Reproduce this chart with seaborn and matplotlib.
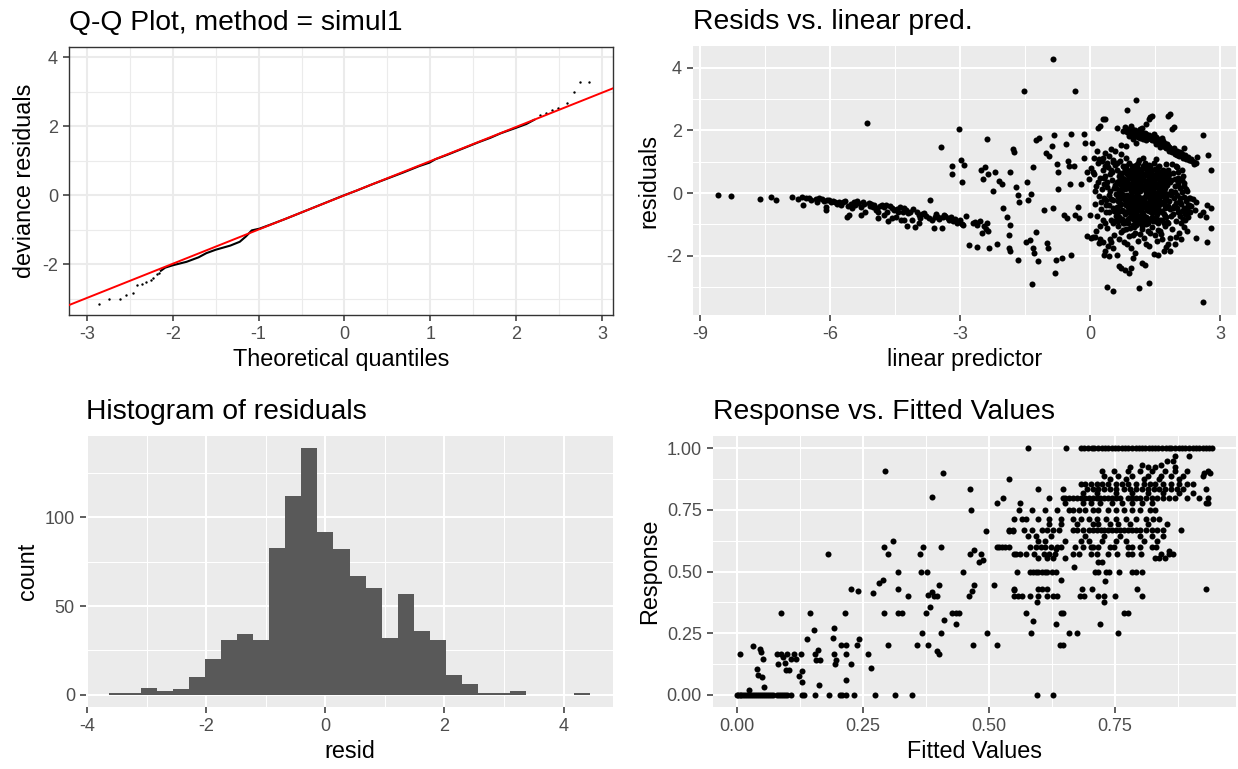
import matplotlib
matplotlib.use("Agg")
import matplotlib.pyplot as plt
import seaborn as sns
import numpy as np
import pandas as pd
from matplotlib.ticker import FixedLocator, FixedFormatter

plt.rcParams['font.family'] = ['Liberation Sans', 'DejaVu Sans']
plt.rcParams['axes.unicode_minus'] = False

# ---------------- data ----------------
# Q-Q plot (theoretical quantile, deviance residual)
qq_core_theo = [-2.14, -2.09, -2.00, -1.84, -1.70, -1.61, -1.50, -1.33, -1.22, -1.15, -1.08, -0.99,
                -0.87, -0.69, -0.51, -0.32, -0.14, 0.00, 0.14, 0.32, 0.51, 0.69, 0.87, 0.99, 1.06,
                1.20, 1.38, 1.56, 1.70, 1.82, 2.00, 2.12, 2.21]
qq_core_samp = [-2.19, -2.10, -2.03, -1.93, -1.80, -1.68, -1.58, -1.46, -1.35, -1.20, -1.02, -0.97,
                -0.86, -0.69, -0.51, -0.32, -0.14, 0.00, 0.13, 0.31, 0.49, 0.66, 0.84, 0.94, 1.04,
                1.17, 1.35, 1.53, 1.66, 1.79, 1.95, 2.06, 2.18]
qq_tail_theo = [-2.86, -2.74, -2.61, -2.54, -2.46, -2.42, -2.36, -2.31, -2.26, -2.23, -2.19, -2.16,
                2.28, 2.35, 2.42, 2.49, 2.59, 2.67, 2.75, 2.85]
qq_tail_samp = [-3.15, -3.00, -3.00, -2.89, -2.84, -2.59, -2.57, -2.50, -2.46, -2.39, -2.29, -2.24,
                2.32, 2.39, 2.47, 2.51, 2.68, 2.99, 3.28, 3.28]
qq_line_intercept = -0.005
qq_line_slope = 0.99

# Residuals vs linear predictor (linear predictor, residual)
band_zero_pts = [(-8.59, -0.05), (-8.29, -0.09), (-7.62, -0.19), (-7.37, -0.13), (-7.25, -0.21),
    (-6.89, -0.12), (-6.75, -0.18), (-6.66, -0.14), (-6.63, -0.37), (-6.55, -0.17), (-6.48, -0.15),
    (-6.45, -0.22), (-6.34, -0.18), (-6.30, -0.28), (-6.25, -0.16), (-6.20, -0.20), (-6.15, -0.25),
    (-6.11, -0.53), (-6.10, -0.45), (-6.07, -0.23), (-6.02, -0.22), (-5.98, -0.30), (-5.93, -0.25),
    (-5.88, -0.27), (-5.85, -0.35), (-5.80, -0.28), (-5.75, -0.39), (-5.70, -0.30), (-5.66, -0.26),
    (-5.61, -0.76), (-5.60, -0.42), (-5.57, -0.71), (-5.52, -0.34), (-5.50, -0.48), (-5.45, -0.30),
    (-5.42, -0.38), (-5.39, -0.24), (-5.35, -0.33), (-5.30, -0.44), (-5.30, -0.70), (-5.25, -0.30),
    (-5.22, -0.36), (-5.20, -0.61), (-5.11, -0.31), (-5.08, -0.40), (-5.05, -0.34), (-5.02, -0.44),
    (-4.98, -0.38), (-4.95, -0.55), (-4.93, -0.49), (-4.90, -0.62), (-4.89, -0.81), (-4.85, -0.42),
    (-4.80, -0.39), (-4.75, -0.45), (-4.75, -0.70), (-4.72, -0.38), (-4.70, -0.60), (-4.66, -0.89),
    (-4.62, -0.42), (-4.58, -0.80), (-4.57, -0.49), (-4.52, -0.55), (-4.48, -0.76), (-4.45, -0.50),
    (-4.43, -0.60), (-4.40, -0.45), (-4.37, -0.86), (-4.32, -0.62), (-4.30, -0.85), (-4.29, -0.49),
    (-4.25, -0.55), (-4.22, -1.05), (-4.20, -0.65), (-4.15, -0.60), (-4.11, -0.86), (-4.08, -0.52),
    (-4.04, -1.09), (-4.00, -0.62), (-3.95, -0.70), (-3.95, -0.95), (-3.93, -0.81), (-3.88, -0.68),
    (-3.84, -0.65), (-3.78, -0.72), (-3.72, -0.80), (-3.70, -0.21), (-3.66, -0.86), (-3.61, -1.13),
    (-3.58, -0.75), (-3.55, -0.68), (-3.52, -0.76), (-3.48, -0.82), (-3.43, -1.13), (-3.40, -0.78),
    (-3.38, -0.71), (-3.35, -0.72), (-3.29, -0.81), (-3.25, -0.85), (-3.22, -0.75), (-3.16, -0.89),
    (-3.12, -0.82), (-3.07, -0.97), (-3.05, -0.92), (-3.00, -0.86), (-2.96, -0.98), (-2.93, -1.02),
    (-2.86, -0.73), (-2.70, -0.95), (-2.62, -1.02), (-2.55, -0.90), (-2.45, -1.05), (-2.40, -1.15),
    (-2.35, -1.22)]

scatter_pts = [(-5.16, 2.22), (-3.45, 1.48), (-3.20, 0.87), (-3.18, 0.61), (-3.02, 2.05), (-2.98, 1.06),
    (-2.95, 0.35), (-2.91, 0.89), (-2.79, -1.65), (-2.66, -0.92), (-2.61, -1.71), (-2.49, -1.26),
    (-2.52, 0.75), (-2.47, 0.45), (-2.43, 0.82), (-2.38, -0.94), (-2.38, 1.72), (-2.36, 0.61),
    (-2.34, -1.76), (-2.25, 0.08), (-2.20, 0.66), (-2.16, -1.63), (-2.11, 0.40), (-2.04, 0.29),
    (-2.02, -0.49), (-1.91, -0.76), (-1.88, -1.34), (-1.86, -1.02), (-1.84, 0.66), (-1.88, -1.76),
    (-1.84, -1.86), (-1.79, 1.40), (-1.75, 1.32), (-1.70, 0.19), (-1.67, -0.07), (-1.66, -2.13),
    (-1.64, -0.28), (-1.52, 3.24), (-1.49, -1.55), (-1.46, 0.35), (-1.43, -0.23), (-1.38, -1.49),
    (-1.36, -0.02), (-1.34, -2.89), (-1.31, 0.82), (-1.31, -1.76), (-1.29, -1.92), (-1.25, -1.23),
    (-1.25, 1.69), (-1.20, -2.18), (-1.18, 1.74), (-1.06, -0.55), (-1.02, 1.27), (-1.00, -1.60),
    (-0.97, -1.74), (-0.95, 1.19), (-0.88, 1.51), (-0.86, 4.26), (-0.86, -0.49), (-0.84, 1.84),
    (-0.82, -2.55), (-0.79, -2.13), (-0.76, 0.93), (-0.75, 0.14), (-0.73, 0.66), (-0.64, -2.07),
    (-0.61, -0.71), (-0.56, 1.56), (-0.54, -0.81), (-0.52, 1.03), (-0.49, 0.87), (-0.47, 0.29),
    (-0.45, 1.87), (-0.43, -1.97), (-0.38, 0.87), (-0.35, 3.24), (-0.34, -0.71), (-0.29, -0.44),
    (-0.25, -0.81), (-0.20, 0.29), (-0.15, 1.87), (-0.13, 1.11), (-0.11, 1.61), (-0.06, 0.66),
    (-0.06, -1.36), (-0.02, 0.45), (0.00, -0.71), (0.03, -1.44), (0.05, 1.61),
    (0.85, 2.66), (1.07, 2.98), (0.30, 2.35), (0.35, 2.37), (0.19, 2.08), (0.24, 2.14),
    (0.62, 2.08), (1.80, 2.45), (1.85, 2.51), (1.89, 2.05), (1.94, 2.11), (1.35, 2.35), (1.39, 2.43),
    (1.44, 2.47), (1.30, 2.19), (2.60, 1.84), (2.73, 1.22), (2.80, 0.75),
    (0.98, 1.72), (1.07, 1.61), (1.16, 1.77), (0.89, 1.82), (0.83, 1.51), (0.71, 1.54), (0.57, 1.35),
    (0.48, 1.40), (0.44, 1.19), (0.35, 1.27), (0.15, 1.35), (0.10, 1.11), (0.21, 1.08), (0.03, 0.79),
    (0.07, 0.66), (0.35, 0.87), (0.53, 0.98), (2.03, 0.68), (1.98, 0.87),
    (2.60, -0.60), (2.67, -0.76), (2.53, -0.71), (2.71, -0.39), (2.80, -0.49), (2.80, -1.11),
    (2.44, -1.44), (2.71, -1.57), (2.60, -3.49), (1.98, -1.39), (2.26, -0.60), (2.30, -0.16),
    (2.17, -0.49), (2.12, 0.03), (2.07, -0.28), (2.26, -0.39),
    (1.85, -1.86), (1.71, -1.86), (1.76, -1.71), (1.57, -1.97), (1.48, -1.95), (1.35, -2.86),
    (1.12, -3.02), (1.21, -2.23), (1.26, -2.28), (0.98, -2.07), (1.03, -1.92), (0.94, -2.39),
    (0.89, -2.55), (0.80, -2.44), (0.71, -2.39), (0.66, -2.34), (0.53, -3.13), (0.39, -3.00),
    (0.44, -2.02), (0.33, -1.97), (0.35, -1.86), (0.30, -1.55), (0.21, -1.60), (0.12, -1.39),
    (0.07, -1.39), (0.62, -1.97), (0.53, -1.76), (0.48, -1.55)]

band_one_pts = [(0.75, 1.98), (0.80, 2.11), (0.89, 2.05), (0.94, 2.14), (0.98, 1.98), (1.07, 1.87),
    (1.12, 1.98), (1.16, 2.03), (1.21, 2.08), (1.26, 1.93), (1.33, 1.82), (1.39, 1.77), (1.48, 1.87),
    (1.53, 1.80), (1.57, 1.72), (1.62, 1.66), (1.67, 1.74), (1.71, 1.61), (1.76, 1.56), (1.80, 1.51),
    (1.85, 1.42), (1.89, 1.38), (1.94, 1.45), (1.98, 1.32), (2.03, 1.27), (2.07, 1.32), (2.12, 1.24),
    (2.17, 1.45), (2.18, 1.19), (2.26, 1.14), (2.30, 1.06), (2.35, 1.01), (2.39, 0.98), (2.44, 0.95),
    (2.48, 1.14), (1.02, 1.92), (1.10, 1.80), (1.18, 1.85), (1.30, 1.70), (1.43, 1.68), (1.60, 1.58),
    (1.73, 1.48), (1.90, 1.30), (2.00, 1.20), (2.22, 1.10),
    (0.85, 1.95), (0.92, 1.90), (0.97, 2.05), (1.04, 2.00), (1.09, 1.95), (1.14, 1.90), (1.19, 1.92),
    (1.24, 1.82), (1.28, 1.88), (1.35, 1.75), (1.37, 1.85), (1.41, 1.72), (1.46, 1.78), (1.50, 1.65),
    (1.55, 1.70), (1.58, 1.62), (1.65, 1.55), (1.69, 1.66), (1.75, 1.45), (1.78, 1.55), (1.83, 1.48),
    (1.87, 1.35), (1.92, 1.40), (1.96, 1.25), (2.01, 1.35), (2.05, 1.18), (2.10, 1.28), (2.15, 1.12),
    (2.20, 1.20), (2.28, 1.05), (2.33, 1.10), (2.40, 0.92), (1.00, 1.78), (1.22, 1.72), (1.52, 1.55),
    (1.62, 1.48), (1.82, 1.35)]

core_pts = [(0.10, 0.62), (0.12, -0.35), (0.14, 0.21), (0.16, -0.72), (0.18, 0.95), (0.20, -0.10),
    (0.22, -1.05), (0.24, 0.48), (0.26, -0.52), (0.28, 0.12), (0.30, -0.85), (0.13, -1.22), (0.19, 0.35),
    (0.25, -0.28), (0.29, 0.74), (0.11, 0.05), (0.23, -1.48), (0.27, 1.02),
    (0.32, -0.15), (0.34, 0.55), (0.36, -0.62), (0.38, 0.18), (0.40, -1.12), (0.42, 0.82), (0.44, -0.38),
    (0.46, 0.05), (0.48, -0.85), (0.50, 0.42), (0.52, -0.22), (0.54, 1.05), (0.56, -1.35), (0.58, 0.25),
    (0.35, -0.95), (0.39, 0.95), (0.43, -0.05), (0.47, -1.45), (0.51, 0.68), (0.55, -0.58), (0.59, -0.02),
    (0.33, 0.28), (0.37, -0.38), (0.41, -1.68), (0.45, 0.62), (0.49, -0.18), (0.53, -0.95), (0.57, 0.88),
    (0.31, 1.12), (0.60, -0.72),
    (0.61, 0.15), (0.62, -0.45), (0.63, 0.72), (0.64, -1.05), (0.65, -0.12), (0.66, 0.38), (0.67, -0.78),
    (0.68, 1.02), (0.69, -0.32), (0.70, 0.05), (0.71, -1.25), (0.72, 0.55), (0.73, -0.55), (0.74, 0.22),
    (0.75, -0.95), (0.76, 0.85), (0.77, -0.15), (0.78, -1.55), (0.79, 0.45), (0.80, -0.68), (0.81, 0.12),
    (0.82, 1.12), (0.83, -0.38), (0.84, -1.15), (0.85, 0.62), (0.86, -0.05), (0.87, -0.82), (0.88, 0.32),
    (0.89, -1.38), (0.90, 0.95), (0.91, -0.25), (0.92, 0.18), (0.93, -0.62), (0.94, -1.75), (0.95, 0.52),
    (0.96, -0.42), (0.97, 0.02), (0.98, -1.02), (0.99, 0.75), (1.00, -0.18),
    (0.62, 0.95), (0.64, -0.25), (0.66, -1.45), (0.68, 0.28), (0.70, -0.58), (0.72, 1.25), (0.74, -0.02),
    (0.76, -1.18), (0.78, 0.68), (0.80, -0.22), (0.82, -0.88), (0.84, 0.42), (0.86, -1.62), (0.88, -0.45),
    (0.90, 0.15), (0.92, -1.12), (0.94, 0.72), (0.96, -0.72), (0.98, 0.38), (0.63, -0.68), (0.67, 0.55),
    (0.71, -0.12), (0.75, 0.42), (0.79, -0.95), (0.83, 0.85), (0.87, 0.18), (0.91, -0.52), (0.95, -0.08),
    (0.99, -1.35),
    (1.01, 0.45), (1.02, -0.62), (1.03, 0.12), (1.04, -1.28), (1.05, 0.88), (1.06, -0.35), (1.07, 0.32),
    (1.08, -0.85), (1.09, 0.62), (1.10, -0.08), (1.11, -1.52), (1.12, 0.22), (1.13, -0.48), (1.14, 1.05),
    (1.15, -0.95), (1.16, 0.05), (1.17, -0.28), (1.18, 0.52), (1.19, -1.15), (1.20, 0.78), (1.21, -0.62),
    (1.22, 0.15), (1.23, -0.18), (1.24, -1.42), (1.25, 0.42), (1.26, -0.75), (1.27, 0.95), (1.28, -0.05),
    (1.29, -0.98), (1.30, 0.28), (1.31, -0.42), (1.32, 0.68), (1.33, -1.22), (1.34, 0.08), (1.35, -0.58),
    (1.36, 0.48), (1.37, -1.68), (1.38, -0.22), (1.39, 0.85), (1.40, -0.82),
    (1.02, 0.72), (1.04, -0.15), (1.06, -1.02), (1.08, 0.18), (1.10, 0.95), (1.12, -0.72), (1.14, -0.25),
    (1.16, -1.32), (1.18, 0.38), (1.20, -0.45), (1.22, 1.12), (1.24, -0.88), (1.26, 0.25), (1.28, -1.62),
    (1.30, 0.58), (1.32, -0.32), (1.34, -0.95), (1.36, 0.18), (1.38, -1.28), (1.40, 0.42), (1.03, -0.42),
    (1.07, 0.02), (1.11, 0.48), (1.15, 0.32), (1.19, -0.15), (1.23, 0.62), (1.27, -0.35), (1.31, 0.05),
    (1.35, -0.12), (1.39, -0.48), (1.05, -0.72), (1.09, -0.52), (1.13, 0.75), (1.17, -0.82), (1.21, -1.05),
    (1.25, -0.22), (1.29, 0.82), (1.33, 0.35), (1.37, 0.62), (1.01, -1.08),
    (1.41, 0.15), (1.42, -0.35), (1.43, 0.72), (1.44, -1.08), (1.45, 0.32), (1.46, -0.62), (1.47, -0.05),
    (1.48, 0.95), (1.49, -1.35), (1.50, 0.45), (1.51, -0.22), (1.52, -0.78), (1.53, 0.18), (1.54, -1.52),
    (1.55, 0.62), (1.56, -0.45), (1.57, 0.02), (1.58, -0.95), (1.59, 0.85), (1.60, -0.18), (1.61, -1.22),
    (1.62, 0.38), (1.63, -0.58), (1.64, 0.12), (1.65, -0.85), (1.66, 0.52), (1.67, -1.45), (1.68, -0.28),
    (1.69, 0.75), (1.70, -0.68), (1.71, 0.05), (1.72, -1.05), (1.73, 0.42), (1.74, -0.38), (1.75, 0.92),
    (1.76, -0.12), (1.77, -0.92), (1.78, 0.25), (1.79, -1.62), (1.80, 0.55),
    (1.42, 0.48), (1.46, -0.88), (1.50, -0.52), (1.54, 0.28), (1.58, 0.55), (1.62, -0.35), (1.66, -0.05),
    (1.70, 0.32), (1.74, -0.72), (1.78, -0.45), (1.44, -0.15), (1.48, 0.22), (1.52, 1.08), (1.56, -1.18),
    (1.60, 0.68), (1.64, -1.32), (1.68, 0.18), (1.72, -0.22), (1.76, 0.62), (1.80, -0.95),
    (1.82, -0.25), (1.84, 0.35), (1.86, -0.72), (1.88, 0.08), (1.90, -1.15), (1.92, 0.65), (1.94, -0.42),
    (1.96, 0.22), (1.98, -0.88), (2.00, -0.05), (2.02, 0.48), (2.04, -0.62), (2.06, -1.28), (2.08, 0.15),
    (2.10, -0.35), (2.12, 0.72), (2.14, -0.82), (2.16, -0.12), (2.18, 0.32), (2.20, -0.55), (2.22, -0.25),
    (2.24, 0.05), (2.26, -0.78), (2.28, -0.38), (2.30, -0.62), (1.85, -1.42), (1.89, 0.92), (1.93, -0.15),
    (1.97, -1.62), (2.01, 0.82), (2.05, -0.28), (2.09, -0.95), (2.13, 0.42), (2.17, -1.08), (2.21, 0.12),
    (2.25, -0.45), (1.83, 0.62), (1.87, -0.05), (1.91, -0.48), (1.95, 0.45), (1.99, -0.32), (2.03, 0.25),
    (2.07, -0.72), (2.11, -1.48), (2.15, 0.55), (2.19, -0.68), (2.23, -1.22), (2.29, -0.15),
    (2.34, -0.42), (2.38, -0.18), (2.42, -0.55), (2.45, -0.30)]

core_dense_pts = [(0.61, -0.52), (0.63, 0.35), (0.65, -0.88), (0.66, 0.02), (0.68, -0.15), (0.69, 0.65),
    (0.70, -0.38), (0.72, 0.12), (0.73, -0.82), (0.74, 0.48), (0.76, -0.05), (0.77, -0.58), (0.78, 0.28),
    (0.79, 0.82), (0.80, -0.35), (0.81, -0.92), (0.82, 0.38), (0.83, -0.12), (0.84, 0.15), (0.85, -0.62),
    (0.86, 0.72), (0.87, -0.28), (0.88, -0.95), (0.89, 0.48), (0.90, -0.12), (0.91, 0.28), (0.92, -0.78),
    (0.93, 0.62), (0.94, -0.38), (0.95, 0.05), (0.96, 0.85), (0.97, -0.55), (0.98, 0.18), (0.99, -0.82),
    (1.00, 0.55), (1.01, -0.32), (1.02, 0.28), (1.03, -0.88), (1.04, 0.62), (1.05, -0.08), (1.06, 0.15),
    (1.07, -0.65), (1.08, 0.82), (1.09, -0.25), (1.10, 0.38), (1.11, -0.78), (1.12, 0.05), (1.13, -0.42),
    (1.14, 0.58), (1.15, -0.15), (1.16, 0.72), (1.17, -0.58), (1.18, 0.22), (1.19, -0.92), (1.20, 0.45),
    (1.21, -0.28), (1.22, 0.85), (1.23, -0.68), (1.24, 0.12), (1.25, -0.45), (1.26, 0.62), (1.27, -0.12),
    (1.28, 0.35), (1.29, -0.78), (1.30, 0.02), (1.31, 0.75), (1.32, -0.55), (1.33, 0.18), (1.34, -0.32),
    (1.35, 0.88), (1.36, -0.82), (1.37, 0.28), (1.38, -0.05), (1.39, 0.52), (1.40, -0.62), (1.41, 0.65),
    (1.42, -0.12), (1.43, 0.38), (1.44, -0.75), (1.45, 0.08), (1.46, 0.55), (1.47, -0.42), (1.48, -0.15),
    (1.49, 0.78), (1.50, -0.88), (1.51, 0.32), (1.52, -0.35), (1.53, 0.62), (1.54, -0.05), (1.55, -0.68),
    (1.56, 0.25), (1.57, 0.82), (1.58, -0.28), (1.59, 0.12), (1.60, -0.58), (1.61, 0.45), (1.62, -0.85),
    (1.63, 0.05), (1.64, 0.68), (1.65, -0.32), (1.66, 0.22), (1.67, -0.62), (1.68, 0.48), (1.69, -0.08),
    (1.70, -0.95), (1.71, 0.58), (1.72, 0.15), (1.73, -0.48), (1.74, 0.28), (1.75, -0.22), (1.76, -0.75),
    (1.77, 0.42), (1.78, -0.02), (1.79, 0.72), (1.80, -0.42), (0.32, 0.48), (0.36, -0.22), (0.40, 0.35),
    (0.44, -0.62), (0.48, 0.72), (0.52, -0.48), (0.56, 0.15), (0.58, -0.88), (1.84, -0.52), (1.88, 0.42),
    (1.92, -0.68), (1.96, 0.02), (2.00, -0.48), (2.04, 0.35), (2.08, -0.15), (2.12, -0.58), (2.16, 0.22),
    (2.20, -0.85)]

# Histogram of residuals (ggplot bins = 30 over the residual range)
resid_min = -3.50
resid_max = 4.31
n_bins = 30
bin_counts = [1, 1, 4, 2, 3, 10, 20, 31, 34, 31, 83, 112, 139, 92, 82, 67, 60, 32, 57, 36,
              31, 11, 6, 1, 1, 2, 0, 0, 0, 1]

# Response vs fitted values
level_rows = [
    (0.0, [0.000, 0.003, 0.006, 0.009, 0.013, 0.017, 0.021, 0.025, 0.029, 0.033, 0.036, 0.040,
           0.044, 0.048, 0.052, 0.056, 0.060, 0.064, 0.068, 0.072, 0.079, 0.083, 0.087, 0.091,
           0.095, 0.099, 0.108, 0.130, 0.134, 0.155, 0.183, 0.204, 0.208, 0.216, 0.233, 0.274,
           0.313, 0.348, 0.595, 0.628]),
    (1.0, [0.577, 0.653, 0.683, 0.689, 0.697, 0.704, 0.709, 0.717, 0.724, 0.730, 0.736, 0.744,
           0.750, 0.756, 0.764, 0.770, 0.776, 0.783, 0.791, 0.797, 0.803, 0.809, 0.817, 0.823,
           0.830, 0.836, 0.843, 0.851, 0.857, 0.862, 0.870, 0.877, 0.883, 0.889, 0.897, 0.904,
           0.910, 0.916, 0.924, 0.930, 0.937, 0.943]),
    (0.400, [0.550, 0.558, 0.566, 0.582, 0.598, 0.615, 0.628, 0.636, 0.681, 0.689, 0.717, 0.729,
             0.751, 0.803]),
    (0.429, [0.550, 0.605, 0.684, 0.704, 0.794, 0.930, 0.597, 0.616]),
    (0.500, [0.556, 0.581, 0.587, 0.593, 0.598, 0.605, 0.611, 0.616, 0.626, 0.634, 0.710, 0.717,
             0.733, 0.739, 0.759, 0.784, 0.792, 0.803]),
    (0.333, [0.574, 0.644, 0.647, 0.768, 0.776]),
    (0.250, [0.584, 0.659, 0.675, 0.756]),
    (0.200, [0.642, 0.646]),
    (0.286, [0.634, 0.720]),
    (0.375, [0.595, 0.729]),
    (0.556, [0.597, 0.616, 0.628, 0.651, 0.830, 0.838, 0.850]),
    (0.571, [0.550, 0.554, 0.562, 0.574, 0.589, 0.609, 0.620, 0.632, 0.667, 0.679, 0.702, 0.714,
             0.737, 0.754, 0.776, 0.784, 0.801, 0.842, 0.858, 0.865]),
    (0.600, [0.517, 0.527, 0.539, 0.581, 0.593, 0.603, 0.612, 0.624, 0.636, 0.644, 0.671, 0.687,
             0.702, 0.706, 0.717, 0.741, 0.749, 0.776, 0.784, 0.799, 0.823, 0.831]),
    (0.625, [0.597, 0.612, 0.651, 0.682, 0.698, 0.725, 0.752, 0.772, 0.807, 0.834]),
    (0.643, [0.577, 0.593, 0.624, 0.690, 0.729, 0.760, 0.799, 0.823, 0.846]),
    (0.667, [0.539, 0.547, 0.570, 0.585, 0.605, 0.616, 0.628, 0.640, 0.667, 0.675, 0.687, 0.698,
             0.706, 0.714, 0.722, 0.729, 0.737, 0.745, 0.753, 0.760, 0.768, 0.776, 0.784, 0.792,
             0.799, 0.811, 0.823, 0.834, 0.846, 0.881]),
    (0.692, [0.620, 0.644, 0.675, 0.706, 0.717, 0.741, 0.756, 0.780, 0.815, 0.854]),
    (0.714, [0.550, 0.566, 0.574, 0.597, 0.620, 0.644, 0.667, 0.682, 0.698, 0.714, 0.733, 0.753,
             0.772, 0.792, 0.811, 0.826, 0.838]),
    (0.750, [0.560, 0.585, 0.612, 0.636, 0.659, 0.667, 0.679, 0.690, 0.706, 0.717, 0.737, 0.753,
             0.768, 0.784, 0.799, 0.819, 0.830]),
    (0.778, [0.517, 0.562, 0.651, 0.686, 0.702, 0.721, 0.745, 0.764, 0.784, 0.803, 0.823, 0.931,
             0.935]),
    (0.800, [0.528, 0.620, 0.647, 0.651, 0.659, 0.667, 0.675, 0.682, 0.690, 0.698, 0.706, 0.714,
             0.721, 0.729, 0.737, 0.745, 0.753, 0.760, 0.776, 0.784, 0.792, 0.799, 0.811, 0.823,
             0.834, 0.846, 0.858, 0.869, 0.893, 0.916, 0.935]),
    (0.818, [0.686, 0.714, 0.753, 0.784, 0.815, 0.846, 0.877, 0.904]),
    (0.833, [0.463, 0.597, 0.647, 0.694, 0.706, 0.717, 0.729, 0.741, 0.753, 0.768, 0.780, 0.792,
             0.803, 0.815, 0.827, 0.838, 0.850, 0.861, 0.873, 0.885, 0.931]),
    (0.857, [0.682, 0.690, 0.702, 0.714, 0.725, 0.737, 0.753, 0.764, 0.776, 0.792, 0.807, 0.819,
             0.830, 0.846, 0.861, 0.877, 0.893, 0.904]),
    (0.875, [0.539, 0.741, 0.772, 0.807, 0.838, 0.877]),
    (0.889, [0.729, 0.756, 0.784, 0.815, 0.842, 0.861, 0.885, 0.924]),
    (0.909, [0.725, 0.749, 0.776, 0.799, 0.823, 0.850, 0.869, 0.893, 0.935]),
    (0.923, [0.780, 0.815, 0.830, 0.869]),
    (0.933, [0.803, 0.842]),
    (0.950, [0.854, 0.865]),
    (0.967, [0.869, 0.896]),
]
fitted_other_pts = [(0.007, 0.167), (0.033, 0.198), (0.040, 0.106), (0.043, 0.079), (0.046, 0.187),
    (0.048, 0.173), (0.051, 0.072), (0.052, 0.146), (0.054, 0.031), (0.025, 0.020), (0.079, 0.167),
    (0.082, 0.123), (0.087, 0.333), (0.087, 0.167), (0.091, 0.153), (0.095, 0.129), (0.097, 0.099),
    (0.099, 0.167), (0.103, 0.099), (0.107, 0.146), (0.114, 0.167), (0.118, 0.146), (0.124, 0.075),
    (0.128, 0.167), (0.130, 0.051), (0.130, 0.095), (0.146, 0.333), (0.139, 0.224), (0.153, 0.262),
    (0.156, 0.167), (0.157, 0.142), (0.161, 0.180), (0.163, 0.038), (0.165, 0.142), (0.182, 0.572),
    (0.191, 0.230), (0.192, 0.272), (0.192, 0.167), (0.194, 0.126), (0.196, 0.142), (0.206, 0.200),
    (0.214, 0.333), (0.216, 0.200), (0.217, 0.167), (0.216, 0.061), (0.226, 0.126), (0.226, 0.428),
    (0.239, 0.200), (0.243, 0.225), (0.241, 0.421),
    (0.261, 0.167), (0.266, 0.110), (0.270, 0.411), (0.282, 0.454), (0.291, 0.467), (0.292, 0.600),
    (0.292, 0.333), (0.295, 0.909), (0.300, 0.570), (0.300, 0.200), (0.309, 0.623), (0.319, 0.499),
    (0.319, 0.428), (0.319, 0.333), (0.328, 0.333), (0.340, 0.400), (0.357, 0.200), (0.363, 0.570),
    (0.365, 0.499), (0.369, 0.600), (0.367, 0.251), (0.375, 0.333), (0.377, 0.499), (0.379, 0.200),
    (0.380, 0.404), (0.384, 0.356), (0.387, 0.801), (0.387, 0.417), (0.392, 0.400), (0.397, 0.400),
    (0.398, 0.178), (0.401, 0.167), (0.402, 0.444), (0.406, 0.600), (0.406, 0.251), (0.410, 0.898),
    (0.412, 0.302), (0.426, 0.333), (0.435, 0.333), (0.435, 0.285), (0.441, 0.333), (0.449, 0.499),
    (0.461, 0.400), (0.465, 0.749), (0.463, 0.570), (0.466, 0.421), (0.468, 0.200), (0.470, 0.444),
    (0.470, 0.589), (0.480, 0.539), (0.484, 0.570), (0.489, 0.546), (0.494, 0.665), (0.496, 0.251),
    (0.511, 0.444), (0.517, 0.200), (0.521, 0.600), (0.531, 0.600), (0.540, 0.665), (0.548, 0.665),
    (0.549, 0.424), (0.588, 0.300), (0.644, 0.467), (0.668, 0.520), (0.717, 0.540), (0.725, 0.540),
    (0.730, 0.460), (0.858, 0.583), (0.634, 0.590), (0.939, 0.900), (0.926, 0.900)]

# ---------------- figure ----------------
W, H = 1238, 769
fig = plt.figure(figsize=(W / 100, H / 100), dpi=100)


def add_ax(l, t, r, b):
    return fig.add_axes([l / W, 1 - b / H, (r - l) / W, (b - t) / H])


ax1 = add_ax(69, 47, 613, 315)
ax2 = add_ax(693, 46, 1236, 315)
ax3 = add_ax(86, 436, 613, 707)
ax4 = add_ax(713, 436, 1236, 707)

TITLE_FS = 20.3
LABEL_FS = 16.8
TICK_FS = 13
DOT_S = 19


def style(ax, xmaj, xmin, ymaj, ymin, xlim, ylim, xfmt=None, yfmt=None, bw=False):
    ax.set_xlim(*xlim)
    ax.set_ylim(*ylim)
    ax.xaxis.set_major_locator(FixedLocator(xmaj))
    ax.xaxis.set_minor_locator(FixedLocator(xmin))
    ax.yaxis.set_major_locator(FixedLocator(ymaj))
    ax.yaxis.set_minor_locator(FixedLocator(ymin))
    fx = xfmt if xfmt else (lambda v: f"{v:g}")
    fy = yfmt if yfmt else (lambda v: f"{v:g}")
    ax.xaxis.set_major_formatter(FixedFormatter([fx(v) for v in xmaj]))
    ax.yaxis.set_major_formatter(FixedFormatter([fy(v) for v in ymaj]))
    ax.set_axisbelow(True)
    if bw:
        ax.set_facecolor('white')
        for sp in ax.spines.values():
            sp.set_color('#333333')
            sp.set_linewidth(1.0)
        ax.grid(which='major', color='#EBEBEB', linewidth=1.5)
        ax.grid(which='minor', color='#EBEBEB', linewidth=0.8)
    else:
        ax.set_facecolor('#EBEBEB')
        for sp in ax.spines.values():
            sp.set_visible(False)
        ax.grid(which='major', color='white', linewidth=1.5)
        ax.grid(which='minor', color='white', linewidth=0.75)
    ax.tick_params(which='major', length=4.5, width=1.1, color='#333333',
                   labelsize=TICK_FS, labelcolor='#4D4D4D', pad=3.5)
    ax.tick_params(which='minor', length=0)


# Panel 1: Q-Q plot
sns.lineplot(x=qq_core_theo, y=qq_core_samp, ax=ax1, color='black', linewidth=1.5,
             sort=False, estimator=None)
sns.scatterplot(x=qq_tail_theo, y=qq_tail_samp, ax=ax1, color='black', s=3, linewidth=0)
ax1.axline((0, qq_line_intercept), slope=qq_line_slope, color='red', linewidth=1.4, zorder=3)
style(ax1, [-3, -2, -1, 0, 1, 2, 3], [-2.5, -1.5, -0.5, 0.5, 1.5, 2.5],
      [-2, 0, 2, 4], [-3, -1, 1, 3], (-3.21, 3.13), (-3.47, 4.29), bw=True)
ax1.set_title('Q-Q Plot, method = simul1', loc='left', fontsize=TITLE_FS, pad=12.5)
ax1.set_xlabel('Theoretical quantiles', fontsize=LABEL_FS, labelpad=3.5)
ax1.set_ylabel('deviance residuals', fontsize=LABEL_FS, labelpad=4)

# Panel 2: residuals vs linear predictor
all_resid_pts = band_zero_pts + scatter_pts + band_one_pts + core_pts + core_dense_pts
lin_pred = [p[0] for p in all_resid_pts]
resid_vals = [p[1] for p in all_resid_pts]
sns.scatterplot(x=lin_pred, y=resid_vals, ax=ax2, color='black', s=DOT_S, linewidth=0)
style(ax2, [-9, -6, -3, 0, 3], [-7.5, -4.5, -1.5, 1.5], [-2, 0, 2, 4], [-3, -1, 1, 3],
      (-9.17, 3.37), (-3.89, 4.69))
ax2.set_title('Resids vs. linear pred.', loc='left', fontsize=TITLE_FS, pad=12)
ax2.set_xlabel('linear predictor', fontsize=LABEL_FS, labelpad=3.5)
ax2.set_ylabel('residuals', fontsize=LABEL_FS, labelpad=4)

# Panel 3: histogram
bin_width = (resid_max - resid_min) / (n_bins - 1)
bin_edges = [resid_min - bin_width / 2 + bin_width * k for k in range(n_bins + 1)]
bin_centers = [(bin_edges[k] + bin_edges[k + 1]) / 2 for k in range(n_bins)]
hist_df = pd.DataFrame({'resid': bin_centers, 'count': bin_counts})
sns.histplot(data=hist_df, x='resid', weights='count', bins=bin_edges, ax=ax3,
             color='#595959', alpha=1, linewidth=0, edgecolor='none')
style(ax3, [-4, -2, 0, 2, 4], [-3, -1, 1, 3], [0, 50, 100], [25, 75, 125],
      (-4.02, 4.83), (-6.95, 145.95))
ax3.set_title('Histogram of residuals', loc='left', fontsize=TITLE_FS, pad=12)
ax3.set_xlabel('resid', fontsize=LABEL_FS, labelpad=3.5)
ax3.set_ylabel('count', fontsize=LABEL_FS, labelpad=4)

# Panel 4: response vs fitted
fitted_vals = []
response_vals = []
for lvl, xs in level_rows:
    fitted_vals += xs
    response_vals += [lvl] * len(xs)
fitted_vals += [p[0] for p in fitted_other_pts]
response_vals += [p[1] for p in fitted_other_pts]
sns.scatterplot(x=fitted_vals, y=response_vals, ax=ax4, color='black', s=DOT_S, linewidth=0)
style(ax4, [0, 0.25, 0.5, 0.75], [0.125, 0.375, 0.625, 0.875],
      [0, 0.25, 0.5, 0.75, 1.0], [0.125, 0.375, 0.625, 0.875],
      (-0.047, 0.99), (-0.05, 1.05), xfmt=lambda v: f"{v:.2f}", yfmt=lambda v: f"{v:.2f}")
ax4.set_title('Response vs. Fitted Values', loc='left', fontsize=TITLE_FS, pad=12)
ax4.set_xlabel('Fitted Values', fontsize=LABEL_FS, labelpad=3.5)
ax4.set_ylabel('Response', fontsize=LABEL_FS, labelpad=4)

fig.savefig('out.png', dpi=100)
